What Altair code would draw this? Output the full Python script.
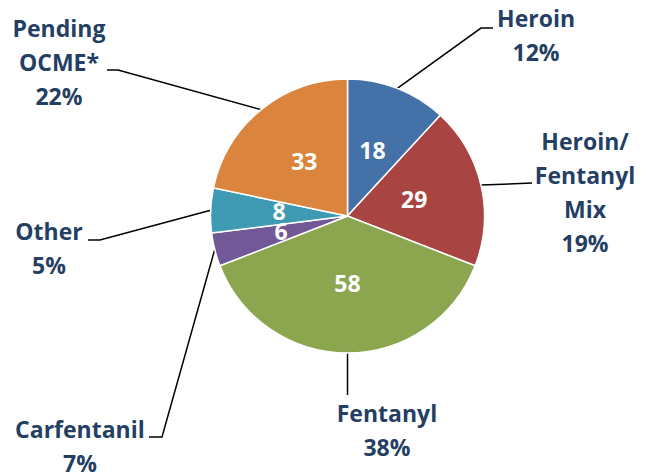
import altair as alt
import pandas as pd
import numpy as np

# ---- data ----
categories = ["Heroin", "Heroin/Fentanyl Mix", "Fentanyl", "Carfentanil", "Other", "Pending OCME*"]
counts = [18, 29, 58, 6, 8, 33]
pct_labels = ["12%", "19%", "38%", "7%", "5%", "22%"]
name_lines = [["Heroin"], ["Heroin/", "Fentanyl", "Mix"], ["Fentanyl"], ["Carfentanil"], ["Other"], ["Pending", "OCME*"]]

# ---- style ----
colors = ["#4472A8", "#A84543", "#8BA64F", "#725896", "#3F9AB4", "#DB843D"]
text_color = "#243F63"
font = "Open Sans"
fsize = 23

# ---- label layout, in pie-radius units (pie centre = 0,0) ----
anchor_x = [1.376, 1.734, 0.288, -1.953, -2.179, -2.106]
anchor_y = [1.380, 0.482, -1.504, -1.620, -0.175, 1.307]
elbow_x = [0.974, 1.347, 0.0, -1.354, -1.807, -1.675]
elbow_y = [1.372, 0.241, -1.307, -1.613, -0.175, 1.066]
end_x = [1.062, 1.347, 0.0, -1.449, -1.894, -1.755]
end_y = [1.372, 0.241, -1.307, -1.613, -0.175, 1.066]
line_step = 0.248
inner_r = 0.5

R_PX = 137
W, H = 636, 466
xdom = [-2.478, 2.164]
ydom = [-(H - 208) / R_PX, 208 / R_PX]

total = sum(counts)
cum = np.cumsum([0] + counts)
mid = [(cum[i] + cum[i + 1]) / 2 / total * 2 * np.pi for i in range(len(counts))]

pie_df = pd.DataFrame({"cat": categories, "count": counts, "idx": range(len(counts))})

inner_df = pd.DataFrame({
    "txt": [str(c) for c in counts],
    "x": [inner_r * np.sin(a) for a in mid],
    "y": [inner_r * np.cos(a) for a in mid],
})

line_rows = []
for i, a in enumerate(mid):
    pts = [(np.sin(a), np.cos(a)), (elbow_x[i], elbow_y[i]), (end_x[i], end_y[i])]
    for k, (px, py) in enumerate(pts):
        line_rows.append({"cat": categories[i], "k": k, "x": px, "y": py})
line_df = pd.DataFrame(line_rows)

lab_rows = []
for i in range(len(categories)):
    lines = name_lines[i] + [pct_labels[i]]
    for k, t in enumerate(lines):
        lab_rows.append({"txt": t, "x": anchor_x[i], "y": anchor_y[i] - k * line_step})
lab_df = pd.DataFrame(lab_rows)

xs = alt.Scale(domain=xdom, nice=False, zero=False)
ys = alt.Scale(domain=ydom, nice=False, zero=False)

pie = alt.Chart(pie_df).mark_arc(radius=R_PX, stroke="white", strokeWidth=1.5).encode(
    theta=alt.Theta("count:Q", stack=True),
    order=alt.Order("idx:Q"),
    color=alt.Color("cat:N", scale=alt.Scale(domain=categories, range=colors), legend=None),
    x=alt.X(datum=0, type="quantitative", scale=xs, axis=None),
    y=alt.Y(datum=0, type="quantitative", scale=ys, axis=None),
)

inner = alt.Chart(inner_df).mark_text(
    font=font, fontSize=fsize, fontWeight="bold", color="white", baseline="middle", align="center"
).encode(
    x=alt.X("x:Q", scale=xs, axis=None),
    y=alt.Y("y:Q", scale=ys, axis=None),
    text="txt:N",
)

leaders = alt.Chart(line_df).mark_line(color="black", strokeWidth=1.5).encode(
    x=alt.X("x:Q", scale=xs, axis=None),
    y=alt.Y("y:Q", scale=ys, axis=None),
    detail="cat:N",
    order="k:Q",
)

labels = alt.Chart(lab_df).mark_text(
    font=font, fontSize=fsize, fontWeight="bold", color=text_color, baseline="alphabetic", align="center"
).encode(
    x=alt.X("x:Q", scale=xs, axis=None),
    y=alt.Y("y:Q", scale=ys, axis=None),
    text="txt:N",
)

chart = alt.layer(leaders, pie, inner, labels).properties(
    width=W, height=H, padding=0, autosize=alt.AutoSizeParams(type="none")
).configure_view(stroke=None)

chart.save("out.html", embed_options={"renderer": "svg", "actions": False})
